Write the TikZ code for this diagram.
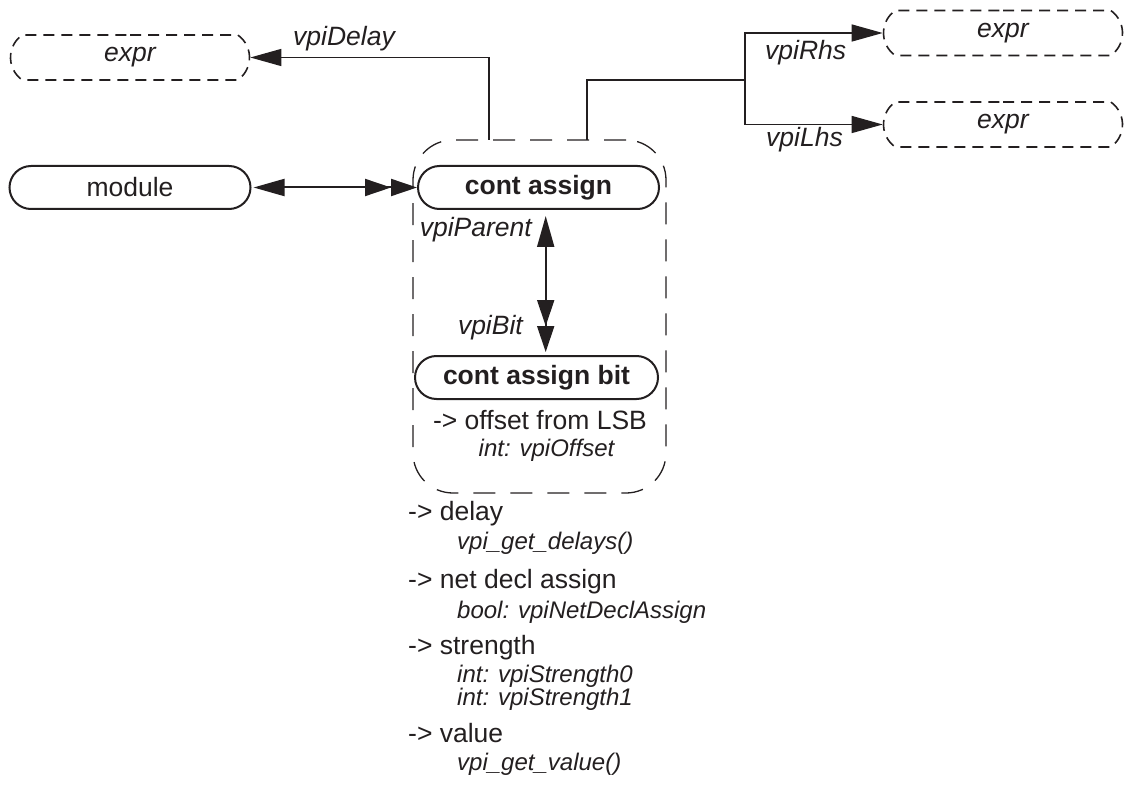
\documentclass[tikz,border=0pt]{standalone}
\usepackage{fontspec}
\setmainfont{Liberation Sans}
\usetikzlibrary{arrows.meta,shapes.misc,calc}
\definecolor{ink}{RGB}{35,31,32}
\newcommand{\fmain}{\fontsize{26.5}{30}\selectfont}
\newcommand{\fsub}{\fontsize{24}{27}\selectfont\itshape}
\tikzset{
  ln/.style={draw=ink, line width=1.5pt},
  solidbox/.style={rounded rectangle, draw=ink, line width=2pt, minimum width=241pt,
     minimum height=43pt, inner sep=0pt, text=ink, font=\fmain},
  exprbox/.style={rounded rectangle, rounded rectangle arc length=110, draw=ink, line width=1.6pt,
     dash pattern=on 11pt off 7pt, minimum width=239pt, minimum height=45pt, inner sep=0pt,
     text=ink, font=\fmain\itshape},
  grpbox/.style={draw=ink, line width=1.3pt, dash pattern=on 22pt off 15pt, rounded corners=40pt,
     minimum width=253pt, minimum height=353pt, inner sep=0pt},
  lbl/.style={text=ink, font=\fmain\itshape, inner sep=0pt},
  mainitem/.style={text=ink, font=\fmain, inner sep=0pt, anchor=base west},
  subitem/.style={text=ink, font=\fsub, inner sep=0pt, anchor=base west},
  tri/.tip={Triangle[length=31pt,width=17pt]},
  trib/.tip={Triangle[length=26pt,width=17pt]},
}
\begin{document}
\begin{tikzpicture}[x=1pt,y=-1pt]
\useasboundingbox (0,0) rectangle (1124,786);

% group container
\node[grpbox] (grp) at (539.5,316.5) {};

% boxes
\node[exprbox] (exprD) at (130,57.5) {expr};
\node[exprbox] (exprR) at (1003,33) {expr};
\node[exprbox] (exprL) at (1003,124.5) {expr};
\node[solidbox] (module) at (130,187.5) {module};
\node[solidbox, font=\fmain\bfseries] (ca) at (538.5,187.5) {cont assign};
\node[solidbox, font=\fmain\bfseries, minimum width=243pt] (cab) at (536.5,377.5) {cont assign bit};

% vpiDelay connector
\coordinate (d0) at (489,140);
\draw[ln, line width=1.3pt, -{tri}] (d0) |- (exprD.east);
\node[lbl, anchor=base west] (lDelay) at (293,46) {vpiDelay};

% vpiRhs / vpiLhs connectors
\coordinate (r0) at (587,140);
\coordinate (j) at (745,80);
\draw[ln, line width=1.3pt] (r0) |- (j);
\draw[ln, line width=1.3pt, -{tri}] (j) |- (exprR.west);
\draw[ln, line width=1.3pt, -{tri}] (j) |- (exprL.west);
\node[lbl, anchor=base west] (lRhs) at (765,60) {vpiRhs};
\node[lbl, anchor=base west] (lLhs) at (766,147) {vpiLhs};

% module <-> cont assign
\draw[ln, line width=2pt, {tri}-{trib[] trib[]}, shorten <=2pt] (module.east) -- (ca.west);

% vpiParent / vpiBit
\coordinate (vt) at ($(ca.south)+(7.2,0)$);
\coordinate (vb) at ($(cab.north)+(9.2,0)$);
\draw[ln, line width=2pt, {tri}-{trib[] trib[]}, shorten <=6pt, shorten >=3pt] (vt) -- (vb);
\node[lbl, anchor=base east] (lParent) at (532,237) {vpiParent};
\node[lbl, anchor=base east] (lBit) at (523,334) {vpiBit};

% attributes inside group
\node[text=ink, font=\fmain, inner sep=0pt, anchor=base] (off) at (540,429) {-> offset from LSB};
\node[text=ink, font=\fsub, inner sep=0pt, anchor=base] (offi) at (546.5,456) {int: vpiOffset};

% attribute list
\node[mainitem] (a1) at (408,520) {-> delay};
\node[subitem] (a1s) at (457,549) {vpi\_get\_delays()};
\node[mainitem] (a2) at (408,588) {-> net decl assign};
\node[subitem] (a2s) at (457,618) {bool: vpiNetDeclAssign};
\node[mainitem] (a3) at (408,654) {-> strength};
\node[subitem] (a3s) at (457,682) {int: vpiStrength0};
\node[subitem] (a3t) at (457,705) {int: vpiStrength1};
\node[mainitem] (a4) at (408,742) {-> value};
\node[subitem] (a4s) at (457,770) {vpi\_get\_value()};
\end{tikzpicture}
\end{document}
